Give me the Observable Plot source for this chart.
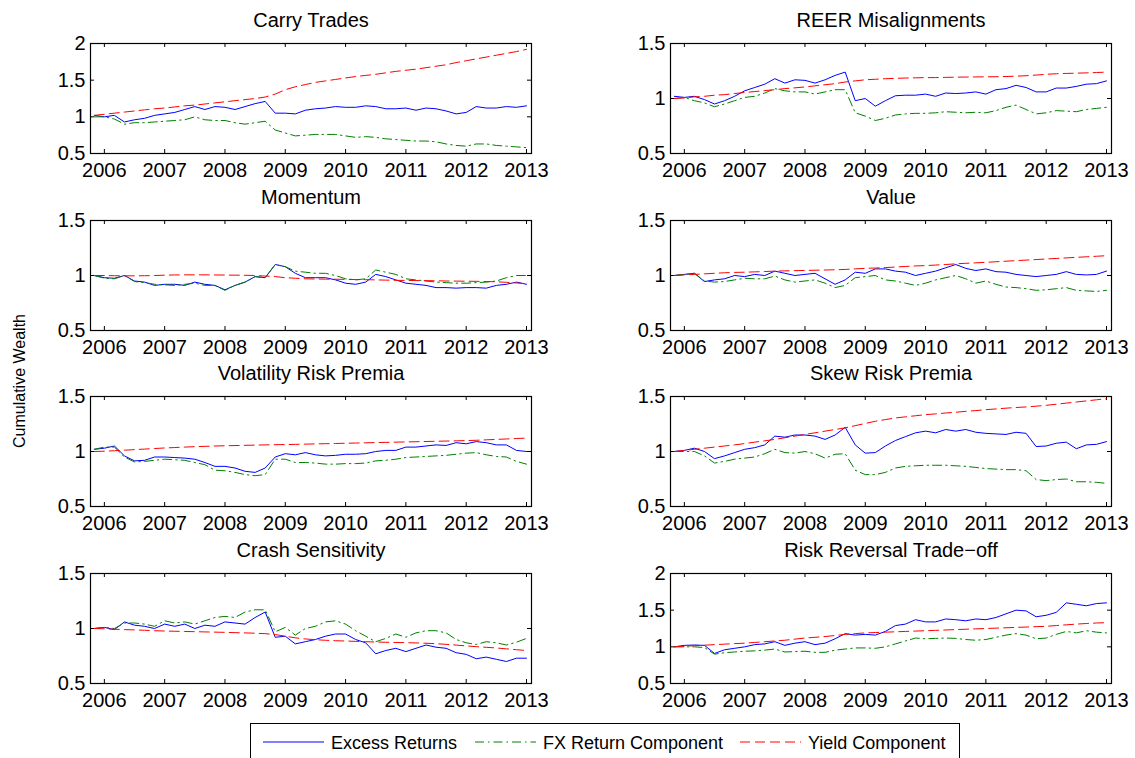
<!DOCTYPE html>
<html><head><meta charset="utf-8">
<script src="https://cdn.jsdelivr.net/npm/d3@7"></script>
<script src="https://cdn.jsdelivr.net/npm/@observablehq/plot@0.6"></script>
<style>
body{margin:0;background:#fff;font-family:"Liberation Sans",Arial,Helvetica,sans-serif;}
#root{position:relative;width:1135px;height:758px;overflow:hidden;background:#fff;}
.panel{position:absolute;}
.ylab{position:absolute;left:20px;top:381px;transform:translate(-50%,-50%) rotate(-90deg);white-space:nowrap;font-size:16px;color:#000;font-family:"Liberation Sans",Arial,sans-serif;}
.legend{position:absolute;left:250px;top:723px;width:710px;height:50px;border:1px solid #000;box-sizing:border-box;background:#fff;}
.legend svg{position:absolute;left:0;top:0;}
</style></head>
<body><div id="root"></div>
<script>
// ---- data ----
const dates = ["2005-11","2006-01","2006-03","2006-05","2006-07","2006-09","2006-11",
"2007-01","2007-03","2007-05","2007-07","2007-09","2007-11",
"2008-01","2008-03","2008-05","2008-07","2008-09","2008-11",
"2009-01","2009-03","2009-05","2009-07","2009-09","2009-11",
"2010-01","2010-03","2010-05","2010-07","2010-09","2010-11",
"2011-01","2011-03","2011-05","2011-07","2011-09","2011-11",
"2012-01","2012-03","2012-05","2012-07","2012-09","2012-11","2013-01"];
const yearTicks = [2006,2007,2008,2009,2010,2011,2012,2013];
const yTicksWide = [0.5,1,1.5,2];
const yTicksNarrow = [0.5,1,1.5];
const titles = ["Carry Trades","REER Misalignments","Momentum","Value","Volatility Risk Premia","Skew Risk Premia","Crash Sensitivity","Risk Reversal Trade\u2212off"];
const legendLabels = ["Excess Returns","FX Return Component","Yield Component"];

const carryExcess = [1.02,1.00,1.02,0.93,0.96,0.98,1.02,1.04,1.06,1.10,1.14,1.10,1.14,1.13,1.10,1.14,1.18,1.21,1.05,1.05,1.04,1.09,1.11,1.12,1.14,1.13,1.13,1.15,1.14,1.11,1.11,1.12,1.09,1.12,1.11,1.08,1.04,1.06,1.14,1.12,1.12,1.14,1.13,1.15];
const carryFX = [1.00,1.00,0.97,0.90,0.92,0.92,0.93,0.94,0.95,0.96,1.00,0.96,0.95,0.95,0.92,0.90,0.92,0.94,0.82,0.78,0.74,0.75,0.76,0.76,0.76,0.74,0.72,0.73,0.72,0.70,0.69,0.68,0.67,0.67,0.66,0.63,0.61,0.60,0.63,0.63,0.61,0.60,0.59,0.58];
const carryYield = [1.02,1.035,1.05,1.065,1.08,1.095,1.11,1.12,1.135,1.15,1.16,1.175,1.19,1.205,1.22,1.235,1.25,1.27,1.31,1.37,1.41,1.44,1.47,1.49,1.51,1.53,1.55,1.565,1.58,1.60,1.62,1.635,1.65,1.67,1.69,1.71,1.74,1.765,1.79,1.815,1.84,1.865,1.89,1.92];

const reerExcess = [1.02,1.01,1.02,0.99,0.95,0.98,1.02,1.07,1.10,1.13,1.18,1.14,1.17,1.165,1.14,1.17,1.21,1.24,0.98,1.00,0.93,0.98,1.025,1.03,1.03,1.04,1.02,1.05,1.045,1.05,1.06,1.04,1.08,1.09,1.12,1.10,1.06,1.06,1.095,1.095,1.11,1.13,1.135,1.16];
const reerFX = [1.00,1.01,0.98,0.96,0.925,0.95,0.98,1.01,1.02,1.05,1.09,1.07,1.06,1.06,1.04,1.06,1.08,1.08,0.87,0.84,0.80,0.82,0.85,0.86,0.865,0.865,0.87,0.88,0.875,0.87,0.875,0.87,0.89,0.92,0.94,0.90,0.86,0.87,0.89,0.885,0.88,0.90,0.91,0.92];
const reerYield = [1.00,1.005,1.015,1.02,1.03,1.035,1.045,1.055,1.063,1.072,1.08,1.09,1.097,1.105,1.115,1.125,1.135,1.15,1.16,1.17,1.175,1.18,1.183,1.186,1.188,1.19,1.19,1.192,1.194,1.195,1.196,1.197,1.198,1.2,1.203,1.207,1.213,1.22,1.225,1.228,1.23,1.233,1.236,1.24];

const momExcess = [1.00,0.98,0.975,1.00,0.95,0.94,0.91,0.92,0.92,0.91,0.94,0.92,0.91,0.87,0.91,0.94,0.99,0.98,1.10,1.08,1.02,0.98,0.98,0.98,0.96,0.93,0.92,0.94,1.01,0.99,0.96,0.93,0.92,0.91,0.89,0.89,0.885,0.89,0.89,0.885,0.91,0.92,0.94,0.92];
const momFX = [1.00,0.975,0.97,1.00,0.945,0.935,0.92,0.915,0.91,0.92,0.93,0.91,0.91,0.865,0.91,0.94,0.99,0.98,1.10,1.08,1.04,1.03,1.02,1.02,1.00,0.97,0.96,0.97,1.05,1.03,1.01,0.97,0.96,0.95,0.94,0.935,0.93,0.93,0.935,0.94,0.95,0.98,1.00,1.00];
const momYield = [1.0,1.0,0.998,0.997,0.997,0.998,1.0,1.003,1.005,1.006,1.006,1.006,1.005,1.004,1.003,1.002,1.0,0.995,0.99,0.98,0.975,0.97,0.968,0.967,0.966,0.965,0.963,0.962,0.96,0.958,0.956,0.955,0.954,0.953,0.952,0.95,0.949,0.948,0.947,0.945,0.943,0.938,0.932,0.925];

const valExcess = [1.00,1.01,1.02,0.945,0.96,0.97,1.00,0.99,1.01,1.00,1.04,1.02,1.00,1.01,1.02,0.97,0.92,0.96,1.03,1.02,1.06,1.06,1.04,1.03,1.00,1.02,1.04,1.07,1.10,1.065,1.045,1.06,1.035,1.03,1.01,1.00,0.99,1.00,1.01,1.035,1.01,1.005,1.01,1.04];
const valFX = [1.00,1.01,1.02,0.95,0.94,0.945,0.96,0.975,0.97,0.97,0.995,0.96,0.94,0.95,0.96,0.93,0.89,0.91,0.98,0.99,1.00,0.96,0.95,0.93,0.91,0.93,0.96,0.98,1.00,0.97,0.93,0.95,0.92,0.895,0.89,0.88,0.865,0.87,0.88,0.89,0.865,0.86,0.855,0.865];
const valYield = [1.0,1.005,1.01,1.015,1.02,1.025,1.028,1.03,1.033,1.036,1.04,1.042,1.044,1.046,1.048,1.05,1.052,1.055,1.06,1.065,1.068,1.072,1.077,1.082,1.087,1.09,1.095,1.1,1.106,1.111,1.115,1.12,1.125,1.13,1.135,1.14,1.145,1.15,1.155,1.16,1.165,1.17,1.175,1.18];

const volExcess = [1.02,1.03,1.05,0.96,0.915,0.92,0.95,0.95,0.945,0.94,0.93,0.90,0.865,0.865,0.85,0.82,0.81,0.85,0.95,0.98,0.97,0.99,0.97,0.96,0.965,0.975,0.975,0.98,1.00,1.01,1.01,1.04,1.04,1.05,1.06,1.055,1.08,1.07,1.09,1.08,1.06,1.06,1.01,1.00];
const volFX = [1.02,1.04,1.04,0.95,0.905,0.91,0.92,0.93,0.925,0.92,0.90,0.88,0.83,0.825,0.81,0.79,0.78,0.79,0.93,0.93,0.90,0.90,0.895,0.885,0.885,0.89,0.89,0.895,0.915,0.92,0.93,0.945,0.95,0.955,0.96,0.965,0.975,0.985,0.99,0.97,0.955,0.95,0.91,0.885];
const volYield = [1.0,1.003,1.007,1.012,1.017,1.022,1.027,1.032,1.036,1.04,1.044,1.047,1.05,1.052,1.054,1.056,1.058,1.06,1.062,1.063,1.065,1.067,1.069,1.071,1.073,1.075,1.077,1.079,1.081,1.083,1.085,1.087,1.089,1.091,1.093,1.095,1.097,1.099,1.102,1.106,1.11,1.114,1.118,1.122];

const skewExcess = [1.00,1.01,1.03,1.00,0.935,0.96,0.99,1.02,1.035,1.06,1.14,1.13,1.15,1.15,1.14,1.11,1.15,1.22,1.06,0.985,0.99,1.05,1.10,1.135,1.17,1.185,1.17,1.20,1.185,1.20,1.175,1.165,1.16,1.155,1.175,1.165,1.045,1.05,1.075,1.085,1.025,1.06,1.065,1.09];
const skewFX = [1.00,1.00,1.00,0.96,0.895,0.91,0.93,0.94,0.95,0.98,1.02,0.99,0.985,1.00,0.98,0.94,0.975,0.98,0.83,0.79,0.79,0.81,0.85,0.865,0.87,0.875,0.875,0.875,0.87,0.865,0.855,0.845,0.84,0.835,0.835,0.825,0.745,0.735,0.745,0.75,0.725,0.725,0.72,0.71];
const skewYield = [1.0,1.01,1.02,1.03,1.04,1.05,1.06,1.072,1.085,1.097,1.11,1.125,1.14,1.155,1.17,1.185,1.20,1.215,1.235,1.255,1.275,1.29,1.305,1.315,1.325,1.335,1.342,1.35,1.357,1.365,1.372,1.38,1.387,1.394,1.40,1.405,1.412,1.42,1.43,1.44,1.45,1.46,1.47,1.48];

const crashExcess = [1.00,1.01,0.99,1.06,1.03,1.02,1.00,1.04,1.02,1.04,1.00,1.03,1.02,1.06,1.05,1.04,1.10,1.15,0.92,0.93,0.86,0.88,0.90,0.93,0.95,0.95,0.90,0.87,0.77,0.80,0.82,0.79,0.82,0.85,0.83,0.82,0.78,0.765,0.725,0.74,0.72,0.70,0.73,0.73];
const crashFX = [1.00,1.01,1.00,1.05,1.05,1.04,1.02,1.07,1.05,1.06,1.04,1.07,1.10,1.11,1.10,1.15,1.17,1.17,0.97,1.01,0.94,1.00,1.02,1.06,1.07,1.04,0.98,0.93,0.88,0.91,0.95,0.92,0.96,0.98,0.98,0.96,0.90,0.87,0.855,0.88,0.87,0.85,0.875,0.91];
const crashYield = [1.0,0.997,0.993,0.99,0.987,0.984,0.98,0.977,0.975,0.973,0.971,0.969,0.967,0.965,0.962,0.96,0.957,0.953,0.945,0.93,0.915,0.905,0.898,0.893,0.889,0.886,0.883,0.88,0.877,0.875,0.873,0.871,0.869,0.866,0.862,0.856,0.849,0.842,0.835,0.829,0.823,0.815,0.807,0.80];

const rrExcess = [1.00,1.02,1.025,1.02,0.91,0.96,0.98,1.00,1.03,1.04,1.07,1.02,1.05,1.07,1.03,1.05,1.11,1.18,1.16,1.17,1.16,1.21,1.29,1.31,1.37,1.34,1.34,1.38,1.37,1.355,1.38,1.37,1.40,1.45,1.50,1.49,1.41,1.43,1.47,1.60,1.58,1.56,1.59,1.60];
const rrFX = [1.00,1.00,1.00,0.99,0.90,0.92,0.93,0.94,0.945,0.955,0.97,0.93,0.935,0.94,0.925,0.925,0.955,0.97,0.985,0.985,0.98,1.00,1.04,1.08,1.12,1.11,1.115,1.12,1.115,1.10,1.09,1.10,1.13,1.16,1.18,1.16,1.11,1.12,1.17,1.21,1.19,1.22,1.20,1.19];
const rrYield = [1.0,1.008,1.015,1.022,1.03,1.037,1.044,1.05,1.06,1.07,1.08,1.09,1.105,1.12,1.13,1.14,1.155,1.17,1.18,1.19,1.195,1.2,1.205,1.21,1.215,1.22,1.225,1.23,1.235,1.24,1.245,1.25,1.255,1.26,1.265,1.27,1.275,1.28,1.29,1.30,1.31,1.318,1.325,1.33];

// ---- assembly ----
const COLORS = {excess:"#0000ff", fx:"#008000", yld:"#ff0000"};
const DASH_FX = "9,4,1.5,4";
const DASH_YLD = "10,5";
const FONT = "'Liberation Sans', Arial, Helvetica, sans-serif";
const years = dates.map(s => +s.slice(0,4) + (+s.slice(5,7) - 1) / 12);

const panels = [
  {title: titles[0], excess: carryExcess, fx: carryFX, yld: carryYield, yt: yTicksWide},
  {title: titles[1], excess: reerExcess, fx: reerFX, yld: reerYield, yt: yTicksNarrow},
  {title: titles[2], excess: momExcess, fx: momFX, yld: momYield, yt: yTicksNarrow},
  {title: titles[3], excess: valExcess, fx: valFX, yld: valYield, yt: yTicksNarrow},
  {title: titles[4], excess: volExcess, fx: volFX, yld: volYield, yt: yTicksNarrow},
  {title: titles[5], excess: skewExcess, fx: skewFX, yld: skewYield, yt: yTicksNarrow},
  {title: titles[6], excess: crashExcess, fx: crashFX, yld: crashYield, yt: yTicksNarrow},
  {title: titles[7], excess: rrExcess, fx: rrFX, yld: rrYield, yt: yTicksWide}
];

const root = document.getElementById("root");
const xDom = [2005.77, 2013.083];
const colLayout = [{left: 0, width: 560, ml: 90, mr: 29}, {left: 560, width: 575, ml: 110, mr: 24}];
const rowTops = [0, 177, 353, 530];
const boxW = 441, boxH = 110, tickPx = 4;

panels.forEach((p, i) => {
  const col = colLayout[i % 2], top = rowTops[Math.floor(i / 2)];
  const yDom = [p.yt[0], p.yt[p.yt.length - 1]];
  const rows = years.map((t, k) => ({t, excess: p.excess[k], fx: p.fx[k], yld: p.yld[k]}));
  const xt = (xDom[1] - xDom[0]) * tickPx / boxW;
  const yl = (yDom[1] - yDom[0]) * tickPx / boxH;
  const chart = Plot.plot({
    width: col.width, height: 176,
    marginLeft: col.ml, marginRight: col.mr, marginTop: 43, marginBottom: 23,
    x: {domain: xDom, label: null}, y: {domain: yDom, label: null},
    style: {fontFamily: FONT, fontSize: "20px", color: "#000", background: "transparent", overflow: "visible"},
    marks: [
      Plot.axisX(yearTicks, {tickSize: 0, tickPadding: 9, tickFormat: d => String(d), fontSize: 20, label: null}),
      Plot.axisY(p.yt, {tickSize: 0, tickPadding: 5, tickFormat: d => String(d), fontSize: 20, label: null}),
      Plot.ruleX(yearTicks, {x: d => d, y1: yDom[0], y2: yDom[0] + yl, stroke: "#000"}),
      Plot.ruleX(yearTicks, {x: d => d, y1: yDom[1] - yl, y2: yDom[1], stroke: "#000"}),
      Plot.ruleY(p.yt, {y: d => d, x1: xDom[0], x2: xDom[0] + xt, stroke: "#000"}),
      Plot.ruleY(p.yt, {y: d => d, x1: xDom[1] - xt, x2: xDom[1], stroke: "#000"}),
      Plot.line(rows, {x: "t", y: "excess", stroke: COLORS.excess, strokeWidth: 1}),
      Plot.line(rows, {x: "t", y: "fx", stroke: COLORS.fx, strokeWidth: 1, strokeDasharray: DASH_FX}),
      Plot.line(rows, {x: "t", y: "yld", stroke: COLORS.yld, strokeWidth: 1, strokeDasharray: DASH_YLD}),
      Plot.frame({stroke: "#000", strokeWidth: 1.2}),
      Plot.text([p.title], {frameAnchor: "top", lineAnchor: "middle", dy: -23, fontSize: 20, fill: "#000"})
    ]
  });
  const div = document.createElement("div");
  div.className = "panel";
  div.style.left = col.left + "px";
  div.style.top = top + "px";
  div.style.width = col.width + "px";
  div.appendChild(chart);
  root.appendChild(div);
});

// y label
const ylab = document.createElement("div");
ylab.className = "ylab";
ylab.textContent = "Cumulative Wealth";
root.appendChild(ylab);

// legend
const leg = document.createElement("div");
leg.className = "legend";
const ns = "http://www.w3.org/2000/svg";
const lsvg = document.createElementNS(ns, "svg");
lsvg.setAttribute("width", 710); lsvg.setAttribute("height", 50);
const items = [
  {x: 12, color: COLORS.excess, dash: null},
  {x: 224, color: COLORS.fx, dash: DASH_FX},
  {x: 489, color: COLORS.yld, dash: DASH_YLD}
];
items.forEach((it, k) => {
  const ln = document.createElementNS(ns, "line");
  ln.setAttribute("x1", it.x); ln.setAttribute("x2", it.x + 61);
  ln.setAttribute("y1", 18); ln.setAttribute("y2", 18);
  ln.setAttribute("stroke", it.color); ln.setAttribute("stroke-width", 1);
  if (it.dash) ln.setAttribute("stroke-dasharray", it.dash);
  lsvg.appendChild(ln);
  const tx = document.createElementNS(ns, "text");
  tx.setAttribute("x", it.x + 68); tx.setAttribute("y", 24.5);
  tx.setAttribute("font-size", 18); tx.setAttribute("font-family", FONT);
  tx.textContent = legendLabels[k];
  lsvg.appendChild(tx);
});
leg.appendChild(lsvg);
root.appendChild(leg);
</script>
</body></html>
